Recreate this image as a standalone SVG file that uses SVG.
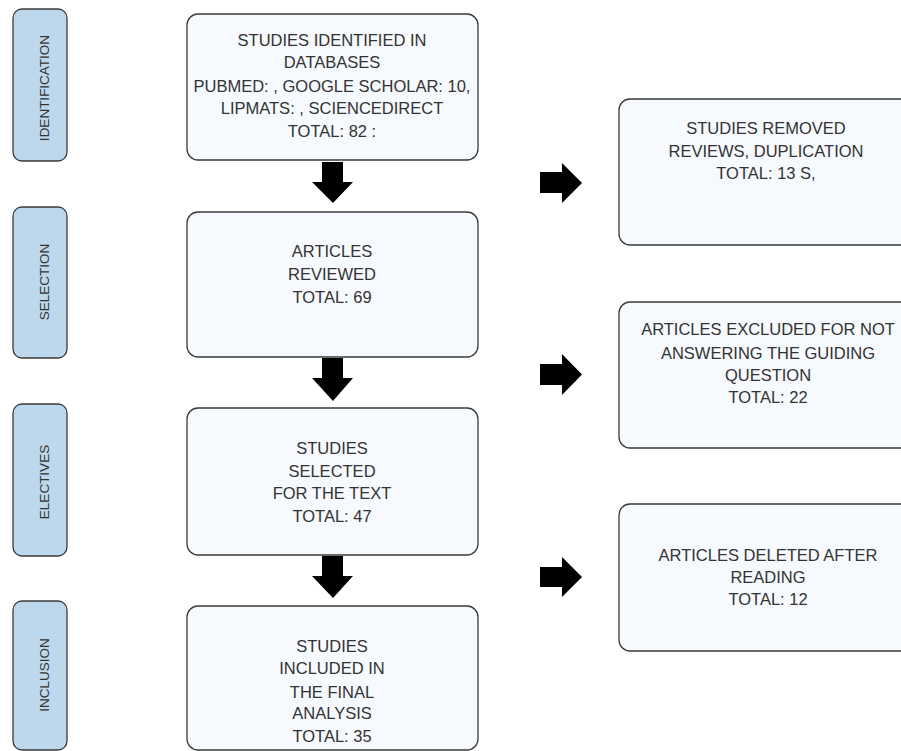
<svg xmlns="http://www.w3.org/2000/svg" width="901" height="751" viewBox="0 0 901 751">
<style>
.pill{fill:#bdd8ec;stroke:#3a3a3a;stroke-width:1.3}
.box{fill:#f6f9fd;stroke:#3a3a3a;stroke-width:1.3}
.vt{font-family:"Liberation Sans",Arial,sans-serif;font-size:13.5px;fill:#333;text-anchor:middle}
.t{font-family:"Liberation Sans",Arial,sans-serif;font-size:16.5px;fill:#333;text-anchor:middle}
.arr{fill:#000}
</style>
<rect width="901" height="751" fill="#fff"/>
<g id="stage-identification"><rect class="pill" x="13" y="9" width="54" height="152" rx="9"/><text class="vt" x="49" y="88" transform="rotate(-90 49 88)">IDENTIFICATION</text></g>
<g id="stage-selection"><rect class="pill" x="13" y="207" width="54" height="151" rx="9"/><text class="vt" x="49" y="282" transform="rotate(-90 49 282)">SELECTION</text></g>
<g id="stage-electives"><rect class="pill" x="13" y="404" width="54" height="152" rx="9"/><text class="vt" x="49" y="482" transform="rotate(-90 49 482)">ELECTIVES</text></g>
<g id="stage-inclusion"><rect class="pill" x="13" y="601" width="54" height="149" rx="9"/><text class="vt" x="49" y="675" transform="rotate(-90 49 675)">INCLUSION</text></g>

<g id="box-identified"><rect class="box" x="187" y="14" width="291" height="146" rx="11"/>
<text class="t"><tspan x="332" y="46">STUDIES IDENTIFIED IN</tspan><tspan x="332" y="68">DATABASES</tspan><tspan x="332" y="92">PUBMED: , GOOGLE SCHOLAR: 10,</tspan><tspan x="332" y="114">LIPMATS: , SCIENCEDIRECT</tspan><tspan x="332" y="137">TOTAL: 82 :</tspan></text></g>
<g id="box-reviewed"><rect class="box" x="187" y="212" width="291" height="145" rx="11"/>
<text class="t"><tspan x="332" y="257">ARTICLES</tspan><tspan x="332" y="280">REVIEWED</tspan><tspan x="332" y="303">TOTAL: 69</tspan></text></g>
<g id="box-selected"><rect class="box" x="187" y="408" width="291" height="147" rx="11"/>
<text class="t"><tspan x="332" y="454">STUDIES</tspan><tspan x="332" y="477">SELECTED</tspan><tspan x="332" y="499">FOR THE TEXT</tspan><tspan x="332" y="522">TOTAL: 47</tspan></text></g>
<g id="box-included"><rect class="box" x="187" y="606" width="291" height="144" rx="11"/>
<text class="t"><tspan x="332" y="652">STUDIES</tspan><tspan x="332" y="674">INCLUDED IN</tspan><tspan x="332" y="698">THE FINAL</tspan><tspan x="332" y="719">ANALYSIS</tspan><tspan x="332" y="742">TOTAL: 35</tspan></text></g>

<g id="box-removed"><rect class="box" x="619" y="99" width="300" height="146" rx="11"/>
<text class="t"><tspan x="766" y="134">STUDIES REMOVED</tspan><tspan x="766" y="157">REVIEWS, DUPLICATION</tspan><tspan x="766" y="179">TOTAL: 13 S,</tspan></text></g>
<g id="box-excluded"><rect class="box" x="619" y="302" width="300" height="146" rx="11"/>
<text class="t"><tspan x="768" y="335">ARTICLES EXCLUDED FOR NOT</tspan><tspan x="768" y="359">ANSWERING THE GUIDING</tspan><tspan x="768" y="381">QUESTION</tspan><tspan x="768" y="403">TOTAL: 22</tspan></text></g>
<g id="box-deleted"><rect class="box" x="619" y="504" width="300" height="147" rx="11"/>
<text class="t"><tspan x="768" y="561">ARTICLES DELETED AFTER</tspan><tspan x="768" y="583">READING</tspan><tspan x="768" y="605">TOTAL: 12</tspan></text></g>

<g id="connectors">
<path class="arr" d="M322,162 H343 V182 H353 L333,203 L312,182 H322 Z"/>
<path class="arr" d="M322,358 H343 V378 H353 L333,401 L312,378 H322 Z"/>
<path class="arr" d="M322,556 H343 V576 H353 L333,598 L312,576 H322 Z"/>
<path class="arr" d="M540,172 H562 V163 L582,183 L562,203 V193 H540 Z"/>
<path class="arr" d="M540,364 H562 V354 L582,374.5 L562,395 V385 H540 Z"/>
<path class="arr" d="M540,567 H562 V557 L582,577 L562,597 V587 H540 Z"/>
</g>
</svg>
